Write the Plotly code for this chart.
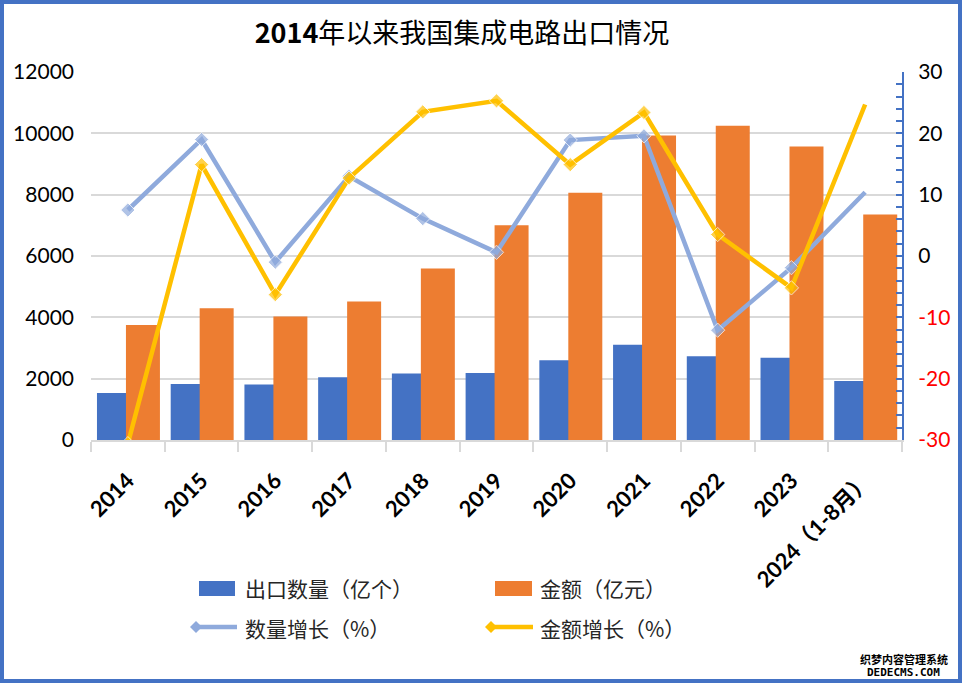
import plotly.graph_objects as go

# ---------------- data ----------------
categories = ["2014", "2015", "2016", "2017", "2018", "2019",
              "2020", "2021", "2022", "2023", "2024（1-8月）"]
export_qty = [1535, 1828, 1810, 2044, 2171, 2187, 2598, 3107, 2734, 2678, 1925]      # 亿个
export_value = [3750, 4300, 4030, 4520, 5590, 7000, 8060, 9930, 10250, 9570, 7350]  # 亿元
qty_growth = [7.5, 19.0, -1.0, 13.0, 6.1, 0.6, 18.9, 19.6, -12.1, -1.9, 10.4]       # %
value_growth = [-30.6, 14.9, -6.3, 12.7, 23.5, 25.3, 14.9, 23.4, 3.5, -5.2, 24.7]   # %
left_ticks = [0, 2000, 4000, 6000, 8000, 10000, 12000]
right_ticks = [-30, -20, -10, 0, 10, 20, 30]

series_names = ["出口数量（亿个）", "金额（亿元）", "数量增长（%）", "金额增长（%）"]
title_text = "<b>2014</b>年以来我国集成电路出口情况"

# ---------------- style ----------------
W, H = 964, 686
ML, MR, MT, MB = 91, 62, 72, 246
PW, PH = W - ML - MR, H - MT - MB
BLUE, ORANGE, LBLUE, GOLD = "#4472C4", "#ED7D31", "#8FAADC", "#FFC000"
CJK = "Noto Sans CJK SC"
NUM = "Lato, Noto Sans CJK SC"


def px(x):
    return (x - ML) / PW


def py(y):
    return (H - MB - y) / PH


bar_w = 0.461
fig = go.Figure()
fig.add_trace(go.Bar(x=categories, y=export_qty, name=series_names[0],
                     marker=dict(color=BLUE, line=dict(width=0)),
                     width=bar_w, offset=-0.419, showlegend=False))
fig.add_trace(go.Bar(x=categories, y=export_value, name=series_names[1],
                     marker=dict(color=ORANGE, line=dict(width=0)),
                     width=bar_w, offset=-0.026, showlegend=False))

msizes = [11] * (len(categories) - 1) + [0]
fig.add_trace(go.Scatter(x=categories, y=qty_growth, name=series_names[2], yaxis="y2",
                         mode="lines+markers",
                         line=dict(color=LBLUE, width=4.5),
                         marker=dict(symbol="diamond", size=msizes, color=LBLUE),
                         showlegend=False))
fig.add_trace(go.Scatter(x=categories, y=value_growth, name=series_names[3], yaxis="y2",
                         mode="lines+markers",
                         line=dict(color=GOLD, width=4.5),
                         marker=dict(symbol="diamond", size=msizes, color=GOLD),
                         showlegend=False))

right_text = []
for v in right_ticks:
    if v < 0:
        right_text.append(f"<span style='color:#FF0000'>{v}</span>")
    else:
        right_text.append(str(v))

fig.update_layout(
    width=W, height=H,
    margin=dict(l=ML, r=MR, t=MT, b=MB),
    paper_bgcolor="white", plot_bgcolor="white",
    barmode="overlay",
    showlegend=False,
    title=dict(text=title_text, x=462 / W, xref="container", xanchor="center",
               y=1 - 34 / H, yref="container", yanchor="middle",
               font=dict(family=CJK, size=27, color="black")),
    xaxis=dict(type="category", showline=True, linecolor="#D9D9D9", linewidth=2,
               ticks="outside", tickson="boundaries", ticklen=10, tickwidth=2,
               tickcolor="#D9D9D9", tickangle=-45, ticklabelstandoff=17,
               tickfont=dict(family=NUM, size=22, color="black", weight="bold"),
               showgrid=False, range=[-0.5, len(categories) - 0.5]),
    yaxis=dict(range=[0, 12000], tickvals=left_ticks, tickformat="d",
               showgrid=True, gridcolor="#D9D9D9", gridwidth=1.5,
               showline=False, zeroline=False, ticks="", ticklabelstandoff=16,
               tickfont=dict(family=NUM, size=21, color="black")),
    yaxis2=dict(range=[-30, 30], overlaying="y", side="right",
                tickvals=right_ticks, ticktext=right_text,
                showgrid=False, zeroline=False,
                showline=True, linecolor=BLUE, linewidth=2,
                ticks="inside", ticklen=6, tickwidth=1.5, tickcolor=BLUE,
                minor=dict(dtick=2, ticks="inside", ticklen=6, tickwidth=1.5, tickcolor=BLUE),
                ticklabelstandoff=10,
                tickfont=dict(family=NUM, size=21, color="black")),
)

shapes = []
annotations = []

# outer border
shapes.append(dict(type="rect", xref="paper", yref="paper",
                   x0=px(2), x1=px(960), y0=py(2), y1=py(681),
                   line=dict(color=BLUE, width=4), fillcolor="rgba(0,0,0,0)", layer="above"))

# manual legend
leg_font = dict(family=CJK, size=21, color="#262626")
# row 1: bar swatches
for (x0, x1, col, name, tx) in [(199, 235, BLUE, series_names[0], 243),
                                (495, 532, ORANGE, series_names[1], 538)]:
    shapes.append(dict(type="rect", xref="paper", yref="paper",
                       x0=px(x0), x1=px(x1), y0=py(596), y1=py(581),
                       line=dict(width=0), fillcolor=col))
    annotations.append(dict(text=name, xref="paper", yref="paper", x=px(tx), y=py(588),
                            xanchor="left", yanchor="middle", showarrow=False, font=leg_font))
# row 2: line swatches with diamond
for (x0, x1, col, name, tx) in [(196, 237, LBLUE, series_names[2], 243),
                                (491, 533, GOLD, series_names[3], 538)]:
    yy = 627
    shapes.append(dict(type="line", xref="paper", yref="paper",
                       x0=px(x0), x1=px(x1), y0=py(yy), y1=py(yy),
                       line=dict(color=col, width=4.5)))
    d = 6
    path = (f"M {px(x0 - d)},{py(yy)} L {px(x0)},{py(yy - d)} "
            f"L {px(x0 + d)},{py(yy)} L {px(x0)},{py(yy + d)} Z")
    shapes.append(dict(type="path", xref="paper", yref="paper", path=path,
                       line=dict(width=0), fillcolor=col))
    annotations.append(dict(text=name, xref="paper", yref="paper", x=px(tx), y=py(628),
                            xanchor="left", yanchor="middle", showarrow=False, font=leg_font))

# watermark
annotations.append(dict(text="<b>织梦内容管理系统</b>", xref="paper", yref="paper",
                        x=px(904), y=py(659), xanchor="center", yanchor="middle",
                        showarrow=False, font=dict(family=CJK, size=11, color="black")))
annotations.append(dict(text="<b>DEDECMS.COM</b>", xref="paper", yref="paper",
                        x=px(904), y=py(672), xanchor="center", yanchor="middle",
                        showarrow=False, font=dict(family="DejaVu Sans Mono", size=11, color="black")))

fig.update_layout(shapes=shapes, annotations=annotations)
fig.write_html("out.html", config={"displayModeBar": False},
               post_script="document.body.style.margin='0';document.body.style.overflow='hidden';")
